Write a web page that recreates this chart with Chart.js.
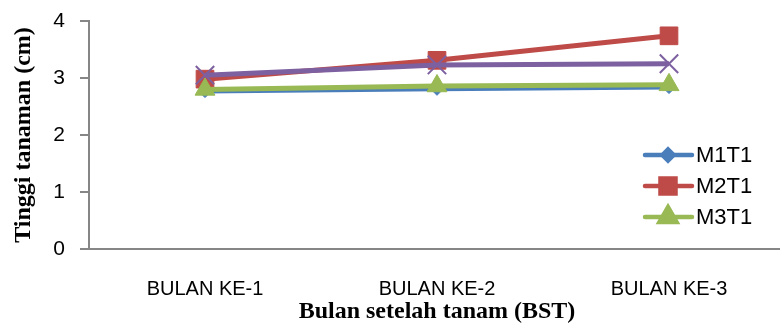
<!DOCTYPE html>
<html>
<head>
<meta charset="utf-8">
<script src="https://cdn.jsdelivr.net/npm/chart.js@4.4.0/dist/chart.umd.min.js"></script>
<style>
  html, body { margin: 0; padding: 0; background: #fff; overflow: hidden; }
  #wrap { width: 800px; height: 328px; }
</style>
</head>
<body>
<div id="wrap"><canvas id="c" width="800" height="328"></canvas></div>
<script>
const months = ['BULAN KE-1', 'BULAN KE-2', 'BULAN KE-3'];
const seriesNames = ['M1T1', 'M2T1', 'M3T1', 'M4T1'];
const m1t1 = [2.77, 2.81, 2.84];
const m2t1 = [2.98, 3.31, 3.74];
const m3t1 = [2.80, 2.86, 2.88];
const m4t1 = [3.05, 3.23, 3.25];
const yTicks = [0, 1, 2, 3, 4];

const colors = ['#4A7EBB', '#BE4B48', '#98B954', '#7D60A0'];
const markers = [
  { style: 'rectRot', r: 6.5, bw: 1 },
  { style: 'rect', r: 12.5, bw: 1 },
  { style: 'triangle', r: 11.5, bw: 1 },
  { style: 'crossRot', r: 13, bw: 2 }
];
const values = [m1t1, m2t1, m3t1, m4t1];

const datasets = values.map((v, i) => ({
  label: seriesNames[i],
  data: v,
  borderColor: colors[i],
  backgroundColor: colors[i],
  borderWidth: 5,
  pointStyle: markers[i].style,
  pointRadius: markers[i].r,
  pointBorderWidth: markers[i].bw,
  pointBackgroundColor: colors[i],
  pointBorderColor: colors[i],
  tension: 0,
  order: 3 - i
}));

// legend drawn inside the plot, only first three series show (like the picture)
const legendBox = {
  id: 'legendBox',
  afterDraw(chart) {
    const ctx = chart.ctx;
    const ys = [155, 186, 217];
    ctx.save();
    for (let i = 0; i < 3; i++) {
      const ds = chart.data.datasets[i];
      const y = ys[i];
      ctx.strokeStyle = ds.borderColor;
      ctx.lineWidth = 4.5;
      ctx.lineCap = 'round';
      ctx.beginPath();
      ctx.moveTo(645, y);
      ctx.lineTo(692, y);
      ctx.stroke();
      ctx.fillStyle = ds.backgroundColor;
      Chart.helpers.drawPoint(ctx, {
        pointStyle: ds.pointStyle,
        radius: ds.pointRadius * 0.85,
        borderWidth: 1,
        rotation: 0
      }, 668, y);
      ctx.fillStyle = '#000';
      ctx.font = '22px "Liberation Sans", Arial, sans-serif';
      ctx.textBaseline = 'middle';
      ctx.textAlign = 'left';
      ctx.fillText(ds.label, 696, y + 1);
    }
    ctx.restore();
  }
};

new Chart(document.getElementById('c'), {
  type: 'line',
  data: { labels: months, datasets: datasets },
  options: {
    responsive: false,
    animation: false,
    layout: { padding: { top: 0, right: 3, left: 0, bottom: 0 } },
    plugins: {
      legend: { display: false },
      tooltip: { enabled: false }
    },
    scales: {
      x: {
        offset: true,
        grid: { display: true, drawOnChartArea: false, drawTicks: false },
        border: { color: '#868686', width: 2 },
        ticks: {
          color: '#000',
          padding: 28,
          font: { family: '"Liberation Sans", Arial, sans-serif', size: 20 }
        },
        title: {
          display: true,
          text: 'Bulan setelah tanam (BST)',
          color: '#000',
          font: { family: '"Liberation Serif", "Times New Roman", serif', size: 24, weight: 'bold' },
          padding: { top: 0, bottom: 2 }
        },
        afterFit(scale) { scale.height = 79; }
      },
      y: {
        min: 0,
        max: 4,
        afterBuildTicks(scale) { scale.ticks = yTicks.map(v => ({ value: v })); },
        grid: { display: true, drawOnChartArea: false, drawTicks: true, tickLength: 9, color: '#868686', lineWidth: 2 },
        border: { color: '#868686', width: 2 },
        ticks: {
          color: '#000',
          padding: 15,
          font: { family: '"Liberation Sans", Arial, sans-serif', size: 21 }
        },
        title: {
          display: true,
          text: 'Tinggi tanaman (cm)',
          color: '#000',
          font: { family: '"Liberation Serif", "Times New Roman", serif', size: 24, weight: 'bold' },
          padding: { top: 9, bottom: 0 }
        },
        afterFit(scale) {
          scale.width = 89;
          scale.paddingTop = 21;
          scale.paddingBottom = 0;
        }
      }
    }
  },
  plugins: [legendBox]
});
</script>
</body>
</html>
